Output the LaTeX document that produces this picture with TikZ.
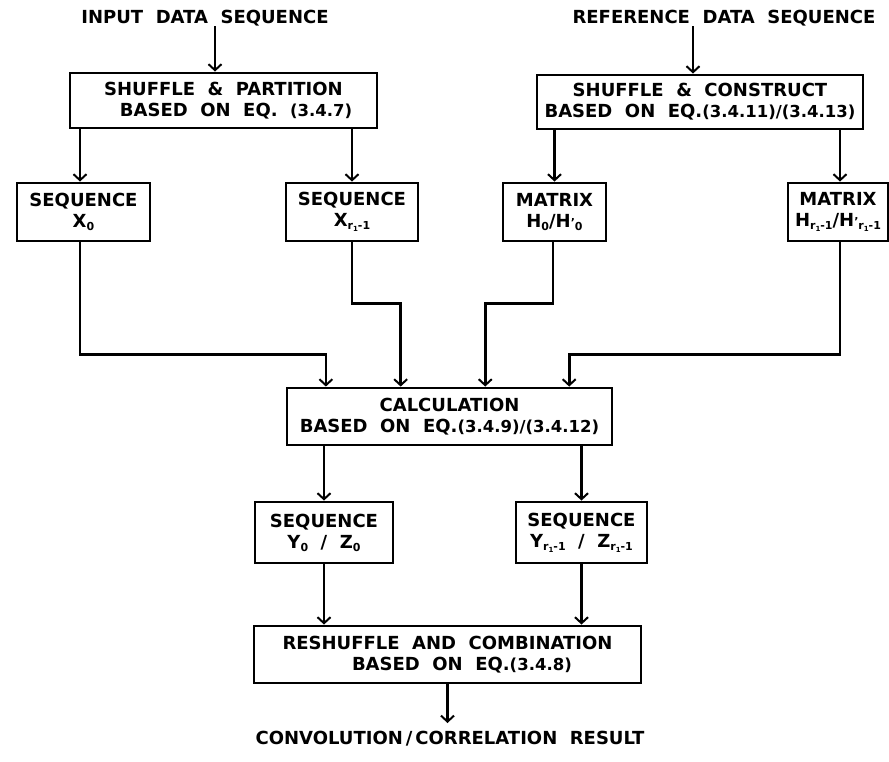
\documentclass[tikz,border=0pt]{standalone}
\usepackage{fontspec}
\setmainfont{DejaVu Sans}[WordSpace=2]
\usetikzlibrary{arrows.meta,calc}
% small lowered index, and the r_1-1 index used throughout
\newcommand\sbs[1]{\raisebox{-0.3ex}{\fontsize{11}{11}\selectfont #1}}
\newcommand\rone{r\raisebox{-0.3ex}{\fontsize{7}{7}\selectfont 1}-1}
\newcommand\pr{\raisebox{0.1ex}{\fontsize{11}{11}\selectfont '}}
\newcommand\eqn[1]{{\fontsize{16.5}{16.5}\selectfont #1}}
\begin{document}
\begin{tikzpicture}[x=1pt,y=-1pt,
  lbl/.style={font=\bfseries\fontsize{18}{21}\selectfont, align=center, inner sep=0pt},
  blk/.style={lbl, draw, line width=2.9pt, minimum width=#1},
  arr/.style={line width=2.7pt, -{Straight Barb[length=6pt,width=13pt,line width=2pt]}}]
\useasboundingbox (0,0) rectangle (889,761);

% sources
\node[lbl] (inp) at (205,18) {INPUT DATA SEQUENCE};
\node[lbl] (ref) at (724,18) {REFERENCE DATA SEQUENCE};

% first stage
\node[blk=307, minimum height=55] (part) at (223.5,100.5)
  {SHUFFLE \& PARTITION\\ \hspace*{1.4em}BASED ON EQ. \eqn{(3.4.7)}};
\node[blk=326, minimum height=54] (cons) at (700,102)
  {SHUFFLE \& CONSTRUCT\\ BASED ON EQ.\eqn{(3.4.11)/(3.4.13)}};

% partial sequences and matrices
\node[blk=133, minimum height=58] (sx0) at (83.5,212) {SEQUENCE\\ X\sbs{0}};
\node[blk=132, minimum height=58] (sxr) at (352,212) {SEQUENCE\\ X\sbs{\rone}};
\node[blk=103, minimum height=58] (mh0) at (554.5,212) {MATRIX\\ H\sbs{0}/H\pr\sbs{0}};
\node[blk=100, minimum height=58] (mhr) at (838,212) {MATRIX\\ H\sbs{\rone}/H\pr\sbs{\rone}};

% calculation
\node[blk=325, minimum height=57] (calc) at (449.5,416.5)
  {CALCULATION\\ BASED ON EQ.\eqn{(3.4.9)/(3.4.12)}};
\coordinate (c1) at ($(calc.north west)!0.123!(calc.north east)$);
\coordinate (c2) at ($(calc.north west)!0.351!(calc.north east)$);
\coordinate (c3) at ($(calc.north west)!0.609!(calc.north east)$);
\coordinate (c4) at ($(calc.north west)!0.865!(calc.north east)$);

% result sequences
\node[blk=138, minimum height=61] (sy0) at (324,532.5) {SEQUENCE\\ Y\sbs{0} / Z\sbs{0}};
\node[blk=131, minimum height=61] (syr) at (581.5,532.5) {SEQUENCE\\ Y\sbs{\rone} / Z\sbs{\rone}};

% recombination
\node[blk=387, minimum height=57] (res) at (447.5,654.5)
  {RESHUFFLE AND COMBINATION\\ \hspace*{1.6em}BASED ON EQ.\eqn{(3.4.8)}};
\node[lbl] (out) at (450,739) {CONVOLUTION\,/\,CORRELATION RESULT};
\coordinate (outend) at (res.south |- 0,723);

% connectors
\draw[arr] (inp.south -| 215,0) -- (part.north -| 215,0);
\draw[arr] (ref.south -| 693,0) -- (cons.north -| 693,0);
\draw[arr] (part.south -| 80,0) -- (sx0.north -| 80,0);
\draw[arr] (part.south -| sxr) -- (sxr.north);
\draw[arr] (cons.south -| mh0) -- (mh0.north);
\draw[arr] (cons.south -| 840,0) -- (mhr.north -| 840,0);

\draw[arr] (sx0.south -| 80,0) |- ([yshift=32pt]c1) -- (c1);
\draw[arr] (sxr.south) |- ([yshift=83pt]c2) -- (c2);
\draw[arr] (mh0.south -| 553,0) |- ([yshift=83pt]c3) -- (c3);
\draw[arr] (mhr.south -| 840,0) |- ([yshift=32pt]c4) -- (c4);

\draw[arr] (calc.south -| sy0) -- (sy0.north);
\draw[arr] (calc.south -| syr) -- (syr.north);
\draw[arr] (sy0.south) -- (res.north -| sy0);
\draw[arr] (syr.south) -- (res.north -| syr);
\draw[arr] (res.south) -- (outend);
\end{tikzpicture}
\end{document}
